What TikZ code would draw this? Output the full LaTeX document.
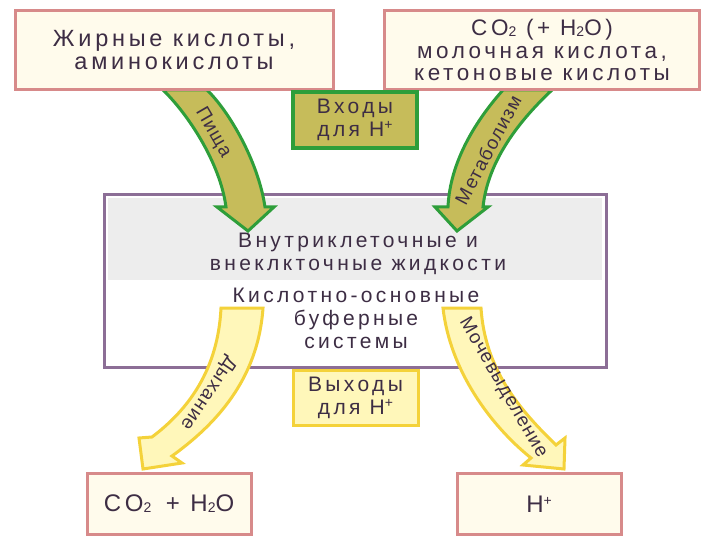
\documentclass[tikz,border=0pt]{standalone}
\usepackage{fontspec}
\setmainfont{Liberation Sans}[LetterSpace=16]
\definecolor{txtc}{HTML}{3D2D44}
\definecolor{pinkb}{HTML}{D78A8A}
\definecolor{creamf}{HTML}{FFFBEC}
\definecolor{purpb}{HTML}{8C6E96}
\definecolor{grayf}{HTML}{EDEDED}
\definecolor{oliv}{HTML}{C6BC5A}
\definecolor{grn}{HTML}{2E9E3A}
\definecolor{ylwf}{HTML}{FFF7BA}
\definecolor{ylwb}{HTML}{F4D23A}
\newcommand{\mysub}[1]{\raisebox{-1pt}{\fontsize{14}{14}\selectfont #1}}
\newcommand{\mysup}[1]{\raisebox{7pt}{\fontsize{14}{14}\selectfont #1}}
\tikzset{
  txt/.style={text=txtc, font=\fontsize{21}{23}\selectfont, align=center, inner sep=0pt},
  bigtxt/.style={txt, font=\fontsize{23.5}{22.5}\selectfont},
  midtxt/.style={txt, font=\fontsize{22.5}{22.5}\selectfont},
  restxt/.style={txt, font=\fontsize{24}{24}\selectfont},
  lbl/.style={text=txtc, font=\fontsize{19}{19}\selectfont\addfontfeatures{LetterSpace=6}, inner sep=0pt},
  srcbox/.style={draw=pinkb, line width=3pt, fill=creamf, inner sep=0pt},
  inbox/.style={draw=grn, line width=3.5pt, fill=oliv, inner sep=0pt},
  outbox/.style={draw=ylwb, line width=3pt, fill=ylwf, inner sep=0pt},
  garrow/.style={draw=grn, line width=3pt, fill=oliv, line join=miter},
  yarrow/.style={draw=ylwb, line width=3pt, fill=ylwf, line join=miter},
}
\begin{document}
\begin{tikzpicture}[x=1pt,y=-1pt]
\useasboundingbox (0,0) rectangle (720,540);
% main box
\node[draw=purpb, line width=3pt, fill=white, minimum width=502pt, minimum height=172pt, inner sep=0pt] (main) at (355,281) {};
\fill[grayf] (108,198) rectangle (602,280);
\node[txt] (fluids) at (358,254) {Внутриклеточные и\\внеклкточные жидкости};
\node[txt] (buf) at (356,318) {Кислотно-основные\\буферные\\системы};
% arrows
\draw[garrow] (163,90) .. controls (187,113) and (220,162) .. (226,207)
  -- (217,207) -- (248,231) -- (274,207) -- (265,207)
  .. controls (258,160) and (228,110) .. (207,90) -- cycle;
\draw[garrow] (503,90) .. controls (478,118) and (450,160) .. (448,207)
  -- (435,207) -- (457,231) -- (488,207) -- (483,207)
  .. controls (488,160) and (520,120) .. (552,90) -- cycle;
\draw[yarrow] (221,308) .. controls (218,370) and (188,410) .. (152,437)
  -- (139,438) -- (143,469) -- (182,463) -- (172,456)
  .. controls (215,425) and (258,380) .. (263,308) -- cycle;
\draw[yarrow] (443,308) .. controls (450,370) and (490,425) .. (531,458)
  -- (523,465) -- (564,469) -- (565,438) -- (556,445)
  .. controls (520,410) and (485,370) .. (481,308) -- cycle;
% boxes
\node[srcbox, minimum width=318pt, minimum height=79pt] (fat) at (174,50) {};
\node[bigtxt] at (fat) {Жирные кислоты,\\аминокислоты};
\node[srcbox, minimum width=315pt, minimum height=79pt] (co2) at (542,50) {};
\node[midtxt] at (co2) {CO\mysub{2} (+ H\mysub{2}O)\\молочная кислота,\\кетоновые кислоты};
\node[inbox, minimum width=124pt, minimum height=56pt] (in) at (355,120) {};
\node[txt] at (in) {Входы\\для H\mysup{+}};
\node[outbox, minimum width=125pt, minimum height=55pt] (out) at (355.5,397.5) {};
\node[txt] at (out) {Выходы\\для H\mysup{+}};
\node[srcbox, minimum width=164pt, minimum height=61pt] (res1) at (169,504) {};
\node[restxt] at (res1) {CO\mysub{2}\, + H\mysub{2}O};
\node[srcbox, minimum width=164pt, minimum height=61pt] (res2) at (539,504) {};
\node[restxt] at (res2) {H\mysup{+}};
% arrow labels
\node[lbl, rotate=-60] (l1) at (213,133) {Пища};
\node[lbl, rotate=62] (l2) at (488,150) {Метаболизм};
\node[lbl, rotate=-124] (l3) at (208,393) {Дыхание};
\node[lbl, rotate=-60] (l4) at (503,388) {Мочевыделение};
\end{tikzpicture}
\end{document}
